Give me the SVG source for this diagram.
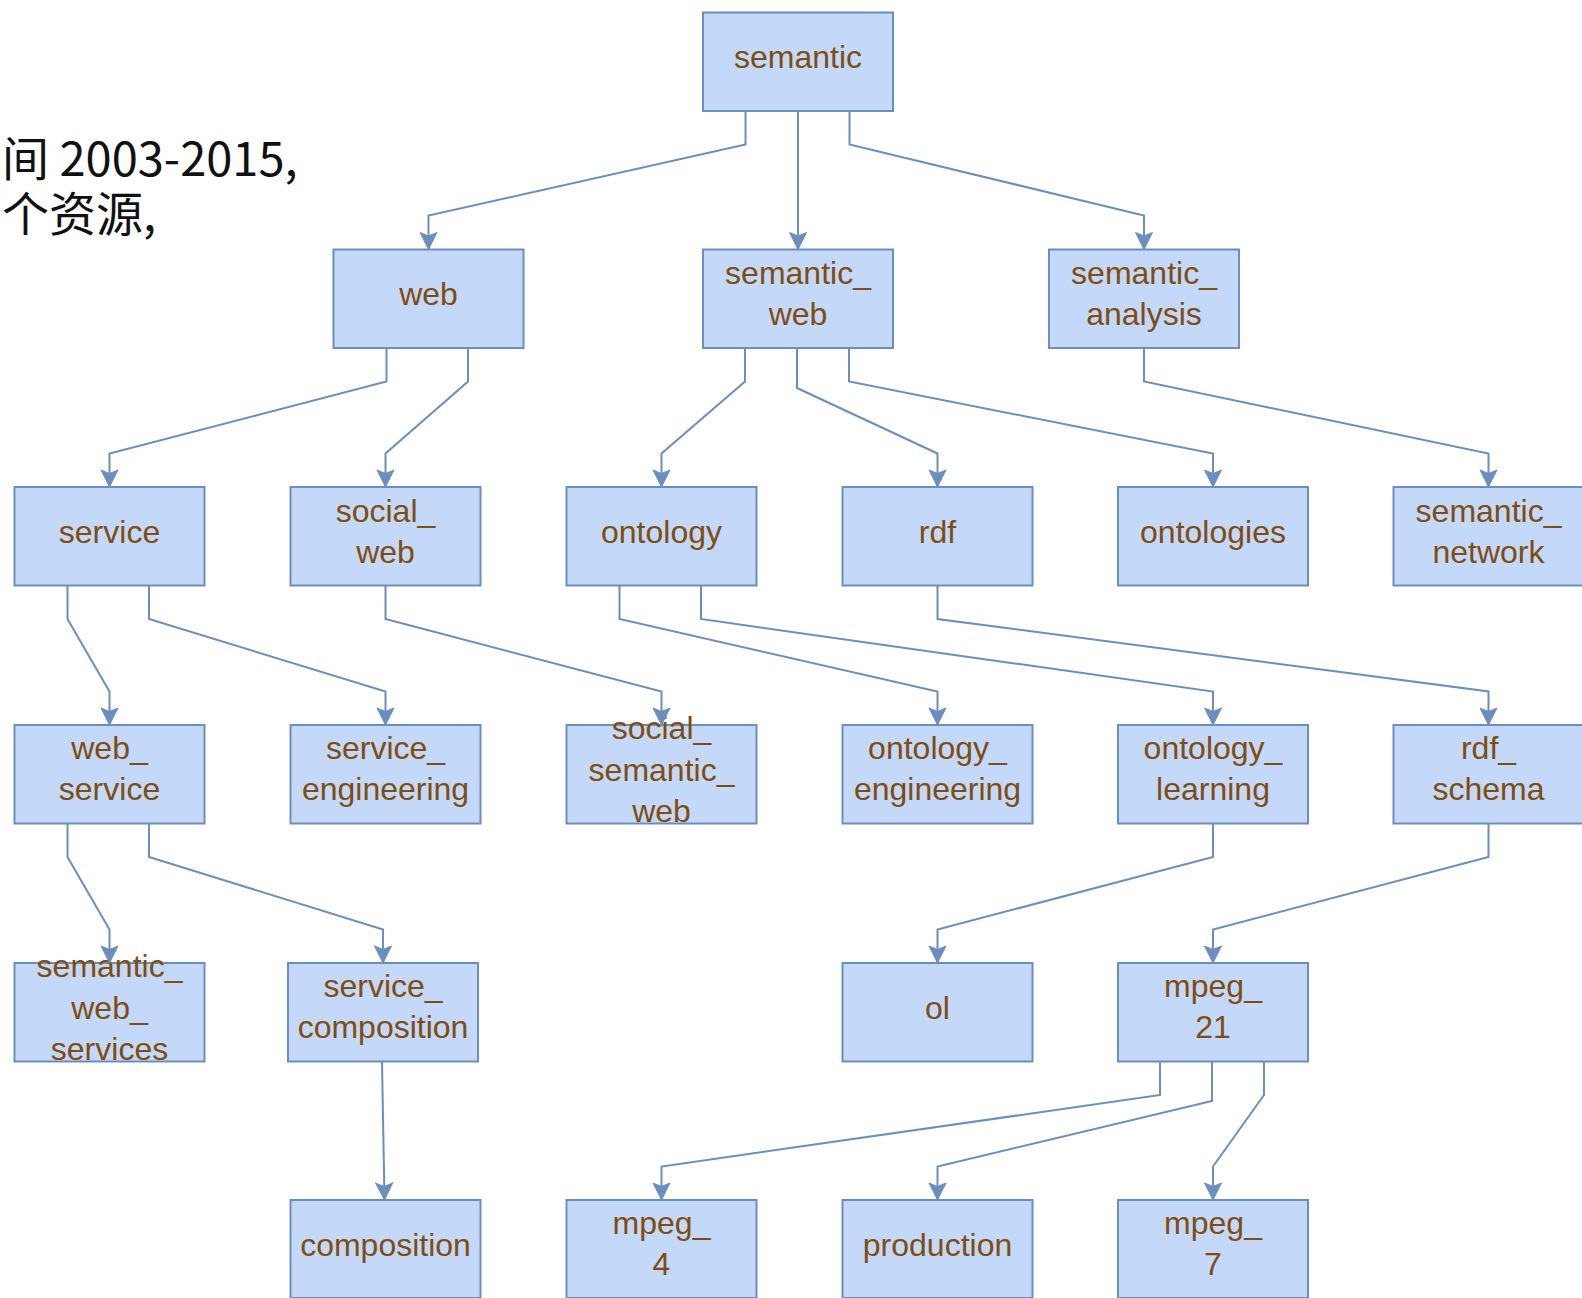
<svg xmlns="http://www.w3.org/2000/svg" width="1582" height="1298" viewBox="0 0 1582 1298">
  <style>
    .box { fill: #c4d8fa; stroke: #6c8ebf; stroke-width: 2; }
    .lbl { font-family: "Liberation Sans", Arial, Helvetica, sans-serif; font-size: 32px; fill: #7f4d0f; text-anchor: middle; }
    .note { font-family: "Noto Sans CJK SC", "Noto Sans", sans-serif; font-size: 47px; fill: #111111; }
    .edge { fill: none; stroke: #6c8ebf; stroke-width: 2; marker-end: url(#arrow); }
  </style>
  <defs>
    <marker id="arrow" markerUnits="userSpaceOnUse" markerWidth="20" markerHeight="20" viewBox="0 0 20 20" refX="18" refY="10" orient="auto">
      <path d="M18,10 L1,1.5 L4.5,10 L1,18.5 Z" fill="#6c8ebf" stroke="#6c8ebf" stroke-width="1"/>
    </marker>
  </defs>

  <rect width="1582" height="1298" fill="#ffffff"/>

  <!-- side caption -->
  <g id="caption">
    <text class="note" x="2" y="176">间 2003-2015,</text>
    <text class="note" x="2" y="231">个资源,</text>
  </g>

  <!-- nodes -->
  <g id="n-semantic"><rect class="box" x="703" y="12.5" width="190" height="98.5"/><text class="lbl" x="798" y="68">semantic</text></g>

  <g id="n-web"><rect class="box" x="333.5" y="249.5" width="190" height="98.5"/><text class="lbl" x="428.5" y="305">web</text></g>
  <g id="n-semantic_web"><rect class="box" x="703" y="249.5" width="190" height="98.5"/><text class="lbl" x="798" y="284">semantic_</text><text class="lbl" x="798" y="325">web</text></g>
  <g id="n-semantic_analysis"><rect class="box" x="1049" y="249.5" width="190" height="98.5"/><text class="lbl" x="1144" y="284">semantic_</text><text class="lbl" x="1144" y="325">analysis</text></g>

  <g id="n-service"><rect class="box" x="14.5" y="487" width="190" height="98.5"/><text class="lbl" x="109.5" y="542.5">service</text></g>
  <g id="n-social_web"><rect class="box" x="290.5" y="487" width="190" height="98.5"/><text class="lbl" x="385.5" y="521.5">social_</text><text class="lbl" x="385.5" y="562.5">web</text></g>
  <g id="n-ontology"><rect class="box" x="566.5" y="487" width="190" height="98.5"/><text class="lbl" x="661.5" y="542.5">ontology</text></g>
  <g id="n-rdf"><rect class="box" x="842.5" y="487" width="190" height="98.5"/><text class="lbl" x="937.5" y="542.5">rdf</text></g>
  <g id="n-ontologies"><rect class="box" x="1118" y="487" width="190" height="98.5"/><text class="lbl" x="1213" y="542.5">ontologies</text></g>
  <g id="n-semantic_network"><rect class="box" x="1393.5" y="487" width="190" height="98.5"/><text class="lbl" x="1488.5" y="521.5">semantic_</text><text class="lbl" x="1488.5" y="562.5">network</text></g>

  <g id="n-web_service"><rect class="box" x="14.5" y="725" width="190" height="98.5"/><text class="lbl" x="109.5" y="759">web_</text><text class="lbl" x="109.5" y="800">service</text></g>
  <g id="n-service_engineering"><rect class="box" x="290.5" y="725" width="190" height="98.5"/><text class="lbl" x="385.5" y="759">service_</text><text class="lbl" x="385.5" y="800">engineering</text></g>
  <g id="n-social_semantic_web"><rect class="box" x="566.5" y="725" width="190" height="98.5"/><text class="lbl" x="661.5" y="739">social_</text><text class="lbl" x="661.5" y="780.5">semantic_</text><text class="lbl" x="661.5" y="821.5">web</text></g>
  <g id="n-ontology_engineering"><rect class="box" x="842.5" y="725" width="190" height="98.5"/><text class="lbl" x="937.5" y="759">ontology_</text><text class="lbl" x="937.5" y="800">engineering</text></g>
  <g id="n-ontology_learning"><rect class="box" x="1118" y="725" width="190" height="98.5"/><text class="lbl" x="1213" y="759">ontology_</text><text class="lbl" x="1213" y="800">learning</text></g>
  <g id="n-rdf_schema"><rect class="box" x="1393.5" y="725" width="190" height="98.5"/><text class="lbl" x="1488.5" y="759">rdf_</text><text class="lbl" x="1488.5" y="800">schema</text></g>

  <g id="n-semantic_web_services"><rect class="box" x="14.5" y="963" width="190" height="98.5"/><text class="lbl" x="109.5" y="977">semantic_</text><text class="lbl" x="109.5" y="1018.5">web_</text><text class="lbl" x="109.5" y="1059.5">services</text></g>
  <g id="n-service_composition"><rect class="box" x="288" y="963" width="190" height="98.5"/><text class="lbl" x="383" y="997">service_</text><text class="lbl" x="383" y="1038">composition</text></g>
  <g id="n-ol"><rect class="box" x="842.5" y="963" width="190" height="98.5"/><text class="lbl" x="937.5" y="1018.5">ol</text></g>
  <g id="n-mpeg_21"><rect class="box" x="1118" y="963" width="190" height="98.5"/><text class="lbl" x="1213" y="997">mpeg_</text><text class="lbl" x="1213" y="1038">21</text></g>

  <g id="n-composition"><rect class="box" x="290.5" y="1200" width="190" height="98"/><text class="lbl" x="385.5" y="1255.5">composition</text></g>
  <g id="n-mpeg_4"><rect class="box" x="566.5" y="1200" width="190" height="98"/><text class="lbl" x="661.5" y="1234">mpeg_</text><text class="lbl" x="661.5" y="1275">4</text></g>
  <g id="n-production"><rect class="box" x="842.5" y="1200" width="190" height="98"/><text class="lbl" x="937.5" y="1255.5">production</text></g>
  <g id="n-mpeg_7"><rect class="box" x="1118" y="1200" width="190" height="98"/><text class="lbl" x="1213" y="1234">mpeg_</text><text class="lbl" x="1213" y="1275">7</text></g>

  <!-- connectors -->
  <g id="edges">
    <path class="edge" d="M745.5,111 V144.5 L428.5,215.5 V249.5"/>
    <path class="edge" d="M798,111 V249.5"/>
    <path class="edge" d="M849.5,111 V144.5 L1144,215.5 V249.5"/>

    <path class="edge" d="M386.5,348 V381.5 L109.5,453.5 V487"/>
    <path class="edge" d="M468,348 V381.5 L385.5,453.5 V487"/>
    <path class="edge" d="M745,348 V381.5 L661.5,453.5 V487"/>
    <path class="edge" d="M797,348 V388 L937.5,453.5 V487"/>
    <path class="edge" d="M849,348 V381.5 L1213,453.5 V487"/>
    <path class="edge" d="M1144,348 V381.5 L1488.5,453.5 V487"/>

    <path class="edge" d="M67.5,585.5 V619 L109.5,691.5 V725"/>
    <path class="edge" d="M149,585.5 V619 L385.5,691.5 V725"/>
    <path class="edge" d="M385.5,585.5 V619 L661.5,691.5 V725"/>
    <path class="edge" d="M619.5,585.5 V619 L937.5,691.5 V725"/>
    <path class="edge" d="M701,585.5 V619 L1213,691.5 V725"/>
    <path class="edge" d="M937.5,585.5 V619 L1488.5,691.5 V725"/>

    <path class="edge" d="M67.5,823.5 V857 L109.5,929.5 V963"/>
    <path class="edge" d="M149,823.5 V857 L383,929.5 V963"/>
    <path class="edge" d="M1213,823.5 V857 L937.5,929.5 V963"/>
    <path class="edge" d="M1488.5,823.5 V857 L1213,929.5 V963"/>

    <path class="edge" d="M382,1061.5 L384.5,1200"/>
    <path class="edge" d="M1160,1061.5 V1095 L661.5,1166.5 V1200"/>
    <path class="edge" d="M1212,1061.5 V1101 L937.5,1166.5 V1200"/>
    <path class="edge" d="M1264,1061.5 V1095 L1213,1166.5 V1200"/>
  </g>
</svg>
